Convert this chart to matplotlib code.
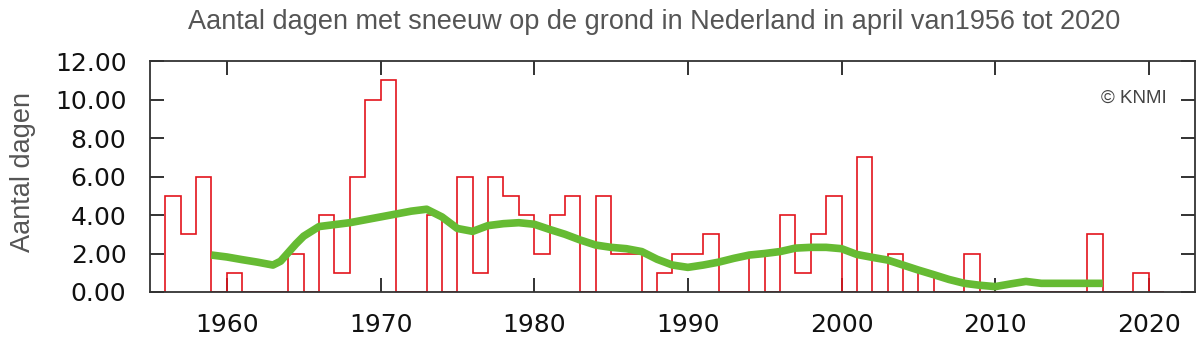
import matplotlib
matplotlib.use("Agg")
import matplotlib.pyplot as plt
import numpy as np

years = list(range(1956, 2021))
days = [5, 3, 6, 0, 1, 0, 0, 0, 2, 0,      # 1956-1965
        4, 1, 6, 10, 11, 0, 0, 4, 0, 6,    # 1966-1975
        1, 6, 5, 4, 2, 4, 5, 0, 5, 2,      # 1976-1985
        2, 0, 1, 2, 2, 3, 0, 0, 2, 0,      # 1986-1995
        4, 1, 3, 5, 0, 7, 0, 2, 0, 1,      # 1996-2005
        0, 0, 2, 0, 0, 0, 0, 0, 0, 0,      # 2006-2015
        3, 0, 0, 1, 0]                     # 2016-2020

trend_years = [1959, 1960, 1961, 1962, 1963, 1963.5, 1964, 1964.5, 1965, 1966, 1967, 1968,
               1969, 1970, 1971, 1972, 1973, 1974, 1975, 1976, 1977, 1978,
               1979, 1980, 1981, 1982, 1983, 1984, 1985, 1986, 1987, 1988,
               1989, 1990, 1991, 1992, 1993, 1994, 1995, 1996, 1997, 1998,
               1999, 2000, 2001, 2002, 2003, 2004, 2005, 2006, 2007, 2008,
               2009, 2010, 2011, 2012, 2013, 2014, 2015, 2016, 2017]
trend = [1.92, 1.82, 1.68, 1.55, 1.40, 1.60, 2.05, 2.50, 2.90, 3.40, 3.50, 3.60,
         3.75, 3.90, 4.05, 4.20, 4.30, 3.90, 3.30, 3.15, 3.45, 3.55,
         3.60, 3.52, 3.25, 3.00, 2.70, 2.44, 2.32, 2.25, 2.10, 1.70,
         1.40, 1.28, 1.40, 1.55, 1.75, 1.92, 2.00, 2.10, 2.28, 2.32,
         2.32, 2.25, 1.95, 1.80, 1.66, 1.40, 1.14, 0.90, 0.65, 0.45,
         0.35, 0.28, 0.42, 0.55, 0.45, 0.45, 0.45, 0.45, 0.45]

yticks = [0, 2, 4, 6, 8, 10, 12]
xticks = [1960, 1970, 1980, 1990, 2000, 2010, 2020]

fig = plt.figure(figsize=(12, 3.42), dpi=100)
ax = fig.add_axes([0.125, 0.1462, 0.8708, 0.6754])

edges = list(years) + [years[-1] + 1]
ax.stairs(days, edges, baseline=0, fill=False, color="#e3141c", linewidth=1.2, zorder=2)
ax.plot(trend_years, trend, color="#66bb33", linewidth=5.5, solid_capstyle="butt",
        solid_joinstyle="round", zorder=3)

ax.set_xlim(1955, 2023)
ax.set_ylim(0, 12)
ax.set_xticks(xticks)
ax.set_yticks(yticks)
ax.set_yticklabels([f"{v:.2f}" for v in yticks])
ax.set_xticklabels([str(v) for v in xticks])

for lab in ax.get_xticklabels() + ax.get_yticklabels():
    lab.set_fontfamily("DejaVu Sans")
    lab.set_fontsize(18)
    lab.set_color("#111111")

ax.tick_params(axis="both", direction="in", length=10, width=1.3, color="#222222",
               top=True, right=True)
ax.tick_params(axis="y", pad=17)
ax.tick_params(axis="x", pad=15)
for s in ax.spines.values():
    s.set_color("#333333")
    s.set_linewidth(1.3)

ax.set_ylabel("Aantal dagen", family="Liberation Sans", fontsize=19.5, color="#555555")
ax.yaxis.set_label_coords(-0.109, 0.52)

fig.text(0.545, 0.935, "Aantal dagen met sneeuw op de grond in Nederland in april van1956 tot 2020",
         ha="center", va="center", family="Liberation Sans", fontsize=19.5, color="#555555")
ax.text(0.973, 0.84, "\u00a9 KNMI", transform=ax.transAxes, ha="right", va="center",
        family="Liberation Sans", fontsize=13.5, color="#444444")

fig.savefig("out.png", dpi=100)
